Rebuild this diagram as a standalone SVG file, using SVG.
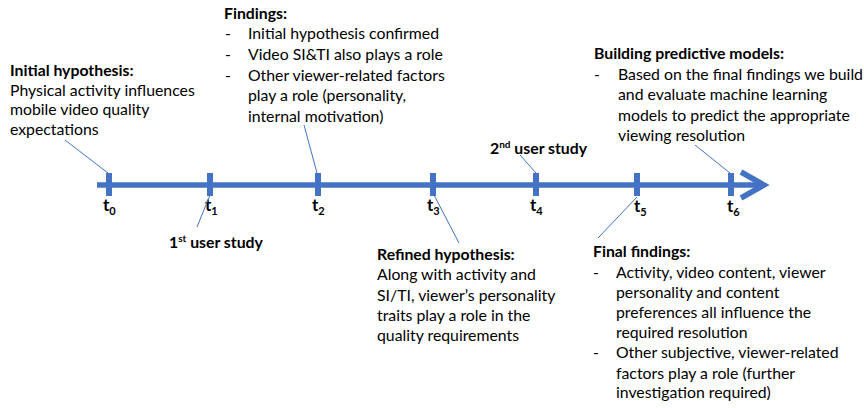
<svg xmlns="http://www.w3.org/2000/svg" width="864" height="408" viewBox="0 0 864 408">
<style>
text{font-family:Lato,"Open Sans","Liberation Sans",sans-serif;font-size:15.8px;fill:#000}
.b{font-weight:bold}
.t{font-weight:bold;font-size:17px}
.sub{font-size:11px}
.sup{font-size:10px}
.axis{stroke:#4472C4;stroke-width:5.5;fill:none}
.tick{stroke:#4472C4;stroke-width:6}
.call{stroke:#4472C4;stroke-width:1;fill:none}
</style>
<rect width="864" height="408" fill="#fff"/>
<g id="timeline">
<line class="axis" x1="97" y1="185" x2="762" y2="185"/>
<polyline class="axis" points="741,172 764,185 741,198" stroke-width="6.5"/>
<g id="ticks">
<line class="tick" x1="109" y1="173" x2="109" y2="196"/>
<line class="tick" x1="210" y1="173" x2="210" y2="196"/>
<line class="tick" x1="318" y1="173" x2="318" y2="196"/>
<line class="tick" x1="433" y1="173" x2="433" y2="196"/>
<line class="tick" x1="536" y1="173" x2="536" y2="196"/>
<line class="tick" x1="637" y1="173" x2="637" y2="196"/>
<line class="tick" x1="731" y1="173" x2="731" y2="196"/>
</g>
</g>
<g id="time-labels">
<text class="t" x="103" y="211">t<tspan class="sub" dy="4">0</tspan></text>
<text class="t" x="205" y="211">t<tspan class="sub" dy="4">1</tspan></text>
<text class="t" x="312" y="211">t<tspan class="sub" dy="4">2</tspan></text>
<text class="t" x="427" y="211">t<tspan class="sub" dy="4">3</tspan></text>
<text class="t" x="530" y="211">t<tspan class="sub" dy="4">4</tspan></text>
<text class="t" x="634" y="212">t<tspan class="sub" dy="4">5</tspan></text>
<text class="t" x="727" y="212">t<tspan class="sub" dy="4">6</tspan></text>
</g>
<g id="connectors">
<line class="call" x1="65" y1="140" x2="108" y2="173"/>
<line class="call" x1="304" y1="125" x2="317" y2="173"/>
<line class="call" x1="210" y1="195" x2="197" y2="227"/>
<line class="call" x1="434" y1="195" x2="459" y2="243"/>
<line class="call" x1="520" y1="155" x2="536" y2="173"/>
<line class="call" x1="637" y1="197" x2="598" y2="238"/>
<line class="call" x1="695" y1="145" x2="730" y2="173"/>
</g>
<g id="initial-hypothesis">
<text class="b" x="10" y="76">Initial hypothesis:</text>
<text x="10" y="96">Physical activity influences</text>
<text x="10" y="115">mobile video quality</text>
<text x="10" y="135">expectations</text>
</g>
<g id="findings">
<text class="b" x="224" y="19">Findings:</text>
<text x="225" y="39">-</text><text x="248" y="39">Initial hypothesis confirmed</text>
<text x="225" y="60">-</text><text x="248" y="60">Video SI&amp;TI also plays a role</text>
<text x="225" y="81">-</text><text x="248" y="81">Other viewer-related factors</text>
<text x="248" y="101">play a role (personality,</text>
<text x="248" y="122">internal motivation)</text>
</g>
<g id="first-study">
<text class="b" x="169" y="248">1<tspan class="sup" dy="-6">st</tspan><tspan dy="6"> user study</tspan></text>
</g>
<g id="second-study">
<text class="b" x="490" y="154">2<tspan class="sup" dy="-6">nd</tspan><tspan dy="6"> user study</tspan></text>
</g>
<g id="refined-hypothesis">
<text class="b" x="377" y="260">Refined hypothesis:</text>
<text x="377" y="280">Along with activity and</text>
<text x="377" y="301">SI/TI, viewer’s personality</text>
<text x="377" y="321">traits play a role in the</text>
<text x="377" y="341">quality requirements</text>
</g>
<g id="building-models">
<text class="b" x="594" y="59">Building predictive models:</text>
<text x="594" y="80">-</text><text x="618" y="80">Based on the final findings we build</text>
<text x="618" y="100">and evaluate machine learning</text>
<text x="618" y="121">models to predict the appropriate</text>
<text x="618" y="141">viewing resolution</text>
</g>
<g id="final-findings">
<text class="b" x="593" y="257">Final findings:</text>
<text x="593" y="278">-</text><text x="616" y="278">Activity, video content, viewer</text>
<text x="616" y="298">personality and content</text>
<text x="616" y="318">preferences all influence the</text>
<text x="616" y="338">required resolution</text>
<text x="593" y="358">-</text><text x="616" y="358">Other subjective, viewer-related</text>
<text x="616" y="379">factors play a role (further</text>
<text x="616" y="398">investigation required)</text>
</g>
</svg>
